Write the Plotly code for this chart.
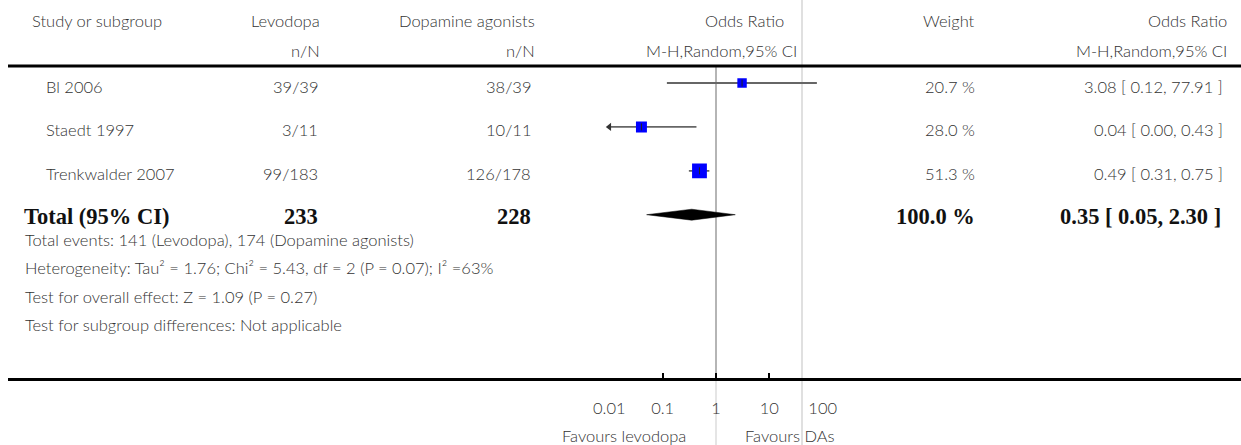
import math
import plotly.graph_objects as go

# ---------------- data ----------------
studies = ["Bl 2006", "Staedt 1997", "Trenkwalder 2007"]
levodopa_nN = ["39/39", "3/11", "99/183"]
agonist_nN = ["38/39", "10/11", "126/178"]
odds_ratio = [3.08, 0.04, 0.49]
ci_low = [0.12, 0.00, 0.31]
ci_high = [77.91, 0.43, 0.75]
weights = [20.7, 28.0, 51.3]
weight_labels = ["20.7 %", "28.0 %", "51.3 %"]
or_labels = ["3.08 [ 0.12, 77.91 ]", "0.04 [ 0.00, 0.43 ]", "0.49 [ 0.31, 0.75 ]"]

total_name = "Total (95% CI)"
total_levodopa = "233"
total_agonist = "228"
total_or = 0.35
total_ci_low = 0.05
total_ci_high = 2.30
total_weight_label = "100.0 %"
total_or_label = "0.35 [ 0.05, 2.30 ]"

footer_lines = [
    "Total events: 141 (Levodopa), 174 (Dopamine agonists)",
    "Heterogeneity: Tau² = 1.76; Chi² = 5.43, df = 2 (P = 0.07); I² =63%",
    "Test for overall effect: Z = 1.09 (P = 0.27)",
    "Test for subgroup differences: Not applicable",
]

header_top = ["Study or subgroup", "Levodopa", "Dopamine agonists", "Odds Ratio", "Weight", "Odds Ratio"]
header_sub = ["n/N", "n/N", "M-H,Random,95% CI", "M-H,Random,95% CI"]

tick_vals = [0.01, 0.1, 1, 10, 100]
tick_text = ["0.01", "0.1", "1", "10", "100"]
axis_min, axis_max = 0.01, 100
favours_left = "Favours levodopa"
favours_right = "Favours DAs"

# ---------------- geometry / style ----------------
W, H = 1241, 445
FOREST_L, FOREST_R = 609.33, 822.67
PLOT_TOP, PLOT_BOTTOM = 66, 380
ROW0, ROW_STEP = 83, 43.9
NULL_PX = (FOREST_L + FOREST_R) / 2

def px(x):
    return x / W

def py(y):
    return 1 - y / H

y_top = (PLOT_TOP - ROW0) / ROW_STEP
y_bottom = (PLOT_BOTTOM - ROW0) / ROW_STEP

SANS = dict(family="Lato", size=16.5, color="#333333", weight=300)
SERIF_B = dict(family="Liberation Serif", size=22.5, color="#111111", weight="bold")

fig = go.Figure()

# line of no effect (above the axis)
fig.add_trace(go.Scatter(x=[1, 1], y=[y_top, y_bottom], mode="lines",
                         line=dict(color="#b5b5b5", width=2), hoverinfo="skip", showlegend=False))

rows = list(range(len(studies)))
total_row = len(studies)

# confidence intervals
for i in rows:
    lo = max(ci_low[i], axis_min)
    hi = min(ci_high[i], axis_max)
    fig.add_trace(go.Scatter(x=[lo, hi], y=[i, i], mode="lines",
                             line=dict(color="#666666", width=1.8),
                             hoverinfo="skip", showlegend=False))

# arrows for truncated CIs
left_arrows = [i for i in rows if ci_low[i] < axis_min]
if left_arrows:
    fig.add_trace(go.Scatter(x=[axis_min] * len(left_arrows), y=left_arrows, mode="markers",
                             marker=dict(symbol="triangle-left", size=7, color="#333333", opacity=1),
                             cliponaxis=False, hoverinfo="skip", showlegend=False))
right_arrows = [i for i in rows if ci_high[i] > axis_max]
if right_arrows:
    fig.add_trace(go.Scatter(x=[axis_max] * len(right_arrows), y=right_arrows, mode="markers",
                             marker=dict(symbol="triangle-right", size=7, color="#333333", opacity=1),
                             cliponaxis=False, hoverinfo="skip", showlegend=False))

# weighted boxes
fig.add_trace(go.Scatter(x=odds_ratio, y=rows, mode="markers",
                         marker=dict(symbol="square", color="#0000ff", opacity=1,
                                     size=[2.07 * math.sqrt(w) for w in weights],
                                     line=dict(width=0)),
                         hoverinfo="skip", showlegend=False))
# point-estimate ticks
fig.add_trace(go.Scatter(x=odds_ratio, y=rows, mode="markers",
                         marker=dict(symbol="line-ns", size=5, opacity=1,
                                     line=dict(color="#222222", width=1)),
                         hoverinfo="skip", showlegend=False))

# pooled diamond
half_h = 0.125
fig.add_trace(go.Scatter(
    x=[total_ci_low, total_or, total_ci_high, total_or, total_ci_low],
    y=[total_row, total_row - half_h, total_row, total_row + half_h, total_row],
    mode="lines", fill="toself", fillcolor="#000000",
    line=dict(color="#000000", width=0.5), hoverinfo="skip", showlegend=False))

# ---------------- text ----------------
ann = []

def add_text(text, x, y, anchor, font, yref="paper", yshift=0):
    ann.append(dict(text=text, x=x, y=y, xref="paper", yref=yref, xanchor=anchor,
                    yanchor="middle", showarrow=False, font=font, yshift=yshift))

# headers
HDR1, HDR2 = 21, 51
hdr_x = [(30, "left"), (322, "right"), (537, "right"), (786, "right"), (977, "right"), (1229, "right")]
for t, (x, a) in zip(header_top, hdr_x):
    add_text(t, px(x), py(HDR1), a, SANS)
sub_x = [322, 537, 799, 1229]
for t, x in zip(header_sub, sub_x):
    add_text(t, px(x), py(HDR2), "right", SANS)

# study rows
TXT_SHIFT = -3.5
for i in rows:
    add_text(studies[i], px(44.3), i, "left", SANS, yref="y", yshift=TXT_SHIFT)
    add_text(levodopa_nN[i], px(320), i, "right", SANS, yref="y", yshift=TXT_SHIFT)
    add_text(agonist_nN[i], px(533), i, "right", SANS, yref="y", yshift=TXT_SHIFT)
    add_text(weight_labels[i], px(977), i, "right", SANS, yref="y", yshift=TXT_SHIFT)
    add_text(or_labels[i], px(1225), i, "right", SANS, yref="y", yshift=TXT_SHIFT)

# total row
add_text(total_name, px(21.7), total_row, "left", SERIF_B, yref="y", yshift=-2)
add_text(total_levodopa, px(320), total_row, "right", SERIF_B, yref="y", yshift=-2)
add_text(total_agonist, px(533), total_row, "right", SERIF_B, yref="y", yshift=-2)
add_text(total_weight_label, px(977), total_row, "right", SERIF_B, yref="y", yshift=-2)
add_text(total_or_label, px(1223), total_row, "right", SERIF_B, yref="y", yshift=-2)

# footer
for t, y in zip(footer_lines, [240, 268, 297, 325]):
    add_text(t, px(22.7), py(y), "left", SANS)

# favours labels
add_text(favours_left, px(688), py(436), "right", SANS)
add_text(favours_right, px(743), py(436), "left", SANS)

shapes = [
    dict(type="line", xref="paper", yref="paper", x0=px(8), x1=1, y0=py(66), y1=py(66),
         line=dict(color="#000000", width=3)),
    dict(type="line", xref="paper", yref="paper", x0=px(8), x1=1, y0=py(379.5), y1=py(379.5),
         line=dict(color="#000000", width=3)),
    dict(type="line", xref="paper", yref="paper", x0=px(802), x1=px(802), y0=0, y1=1,
         line=dict(color="#e0e0e0", width=2), layer="below"),
    dict(type="line", xref="paper", yref="paper", x0=px(NULL_PX), x1=px(NULL_PX), y0=0, y1=py(381),
         line=dict(color="#dddddd", width=1.5), layer="below"),
]

fig.update_layout(
    width=W, height=H, margin=dict(l=0, r=0, t=0, b=0, pad=0, autoexpand=False),
    paper_bgcolor="white", plot_bgcolor="rgba(0,0,0,0)",
    showlegend=False, annotations=ann, shapes=shapes,
    xaxis=dict(type="log", range=[math.log10(axis_min), math.log10(axis_max)],
               domain=[px(FOREST_L), px(FOREST_R)], anchor="y", automargin=False,
               showgrid=False, zeroline=False, showline=False,
               ticks="inside", ticklen=7, tickwidth=2, tickcolor="#000000",
               tickvals=tick_vals, ticktext=tick_text, tickfont=SANS,
               ticklabelstandoff=16, fixedrange=True),
    yaxis=dict(range=[y_bottom, y_top], domain=[py(PLOT_BOTTOM), py(PLOT_TOP)],
               automargin=False,
               showgrid=False, zeroline=False, showline=False, showticklabels=False,
               ticks="", fixedrange=True),
)

fig.write_html("out.html", config={"displayModeBar": False},
               post_script="document.body.style.margin='0px';document.body.style.overflow='hidden';")
